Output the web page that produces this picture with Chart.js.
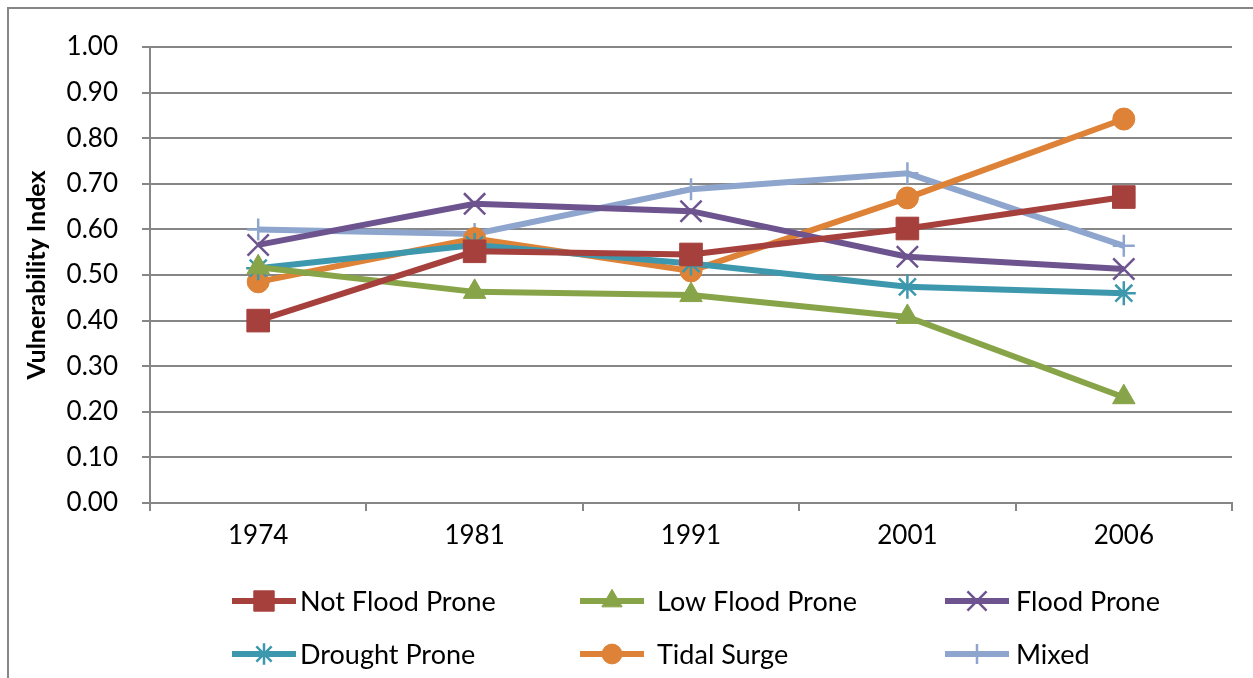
<!DOCTYPE html>
<html>
<head>
<meta charset="utf-8">
<script src="https://cdn.jsdelivr.net/npm/chart.js@4/dist/chart.umd.min.js"></script>
<style>
html,body{margin:0;padding:0;background:#fff;}
#wrap{position:relative;width:1253px;height:678px;}
</style>
</head>
<body>
<div id="wrap"><canvas id="c" width="1253" height="678"></canvas></div>
<script>
const categories = ['1974', '1981', '1991', '2001', '2006'];
const notFloodProne = [0.40, 0.552, 0.545, 0.602, 0.671];
const lowFloodProne = [0.517, 0.463, 0.456, 0.408, 0.232];
const floodProne = [0.566, 0.656, 0.640, 0.540, 0.513];
const droughtProne = [0.515, 0.566, 0.525, 0.474, 0.460];
const tidalSurge = [0.485, 0.580, 0.509, 0.669, 0.842];
const mixed = [0.600, 0.590, 0.688, 0.723, 0.564];
const yTicks = [0, 0.1, 0.2, 0.3, 0.4, 0.5, 0.6, 0.7, 0.8, 0.9, 1.0];

const FONT = 'Lato, "Open Sans", sans-serif';
const GRID = '#868686';

const seriesDefs = [
  {label: 'Not Flood Prone', data: notFloodProne, color: '#A5403D', style: 'rect', radius: 16, bw: 1},
  {label: 'Low Flood Prone', data: lowFloodProne, color: '#88A448', style: 'triangle', radius: 13, bw: 1},
  {label: 'Flood Prone', data: floodProne, color: '#6D548F', style: 'crossRot', radius: 15, bw: 2.5},
  {label: 'Drought Prone', data: droughtProne, color: '#3D98AE', style: 'star', radius: 12, bw: 2.5},
  {label: 'Tidal Surge', data: tidalSurge, color: '#DD8237', style: 'circle', radius: 11, bw: 1},
  {label: 'Mixed', data: mixed, color: '#8EA5CD', style: 'cross', radius: 11, bw: 2.5}
];

const datasets = seriesDefs.map(s => ({
  label: s.label,
  data: s.data,
  borderColor: s.color,
  backgroundColor: s.color,
  borderWidth: 6,
  pointStyle: s.style,
  pointRadius: s.radius,
  pointHoverRadius: s.radius,
  pointBorderWidth: s.bw,
  pointBackgroundColor: s.color,
  pointBorderColor: s.color,
  tension: 0
}));

const legendPlugin = {
  id: 'customLegend',
  beforeDraw(chart) {
    const ctx = chart.ctx;
    ctx.save();
    ctx.fillStyle = '#fff';
    ctx.fillRect(0, 0, chart.width, chart.height);
    ctx.strokeStyle = GRID;
    ctx.lineWidth = 2;
    ctx.strokeRect(8, 8, 1400, 800);
    ctx.restore();
  },
  afterDraw(chart) {
    const ctx = chart.ctx;
    const colX = [232, 580, 945];
    const textX = [300, 657, 1016];
    const rowY = [601, 654];
    ctx.save();
    seriesDefs.forEach((s, i) => {
      const col = i % 3, row = Math.floor(i / 3);
      const x0 = colX[col], x1 = colX[col] + 64, y = rowY[row];
      ctx.strokeStyle = s.color;
      ctx.lineWidth = 6;
      ctx.beginPath();
      ctx.moveTo(x0, y);
      ctx.lineTo(x1, y);
      ctx.stroke();
      ctx.fillStyle = s.color;
      ctx.strokeStyle = s.color;
      ctx.lineWidth = s.bw;
      Chart.helpers.drawPoint(ctx, {pointStyle: s.style, radius: s.radius * 0.9, rotation: 0, borderWidth: s.bw}, (x0 + x1) / 2, y);
      ctx.fillStyle = '#000';
      ctx.font = '27px ' + FONT;
      ctx.textBaseline = 'middle';
      ctx.textAlign = 'left';
      ctx.fillText(s.label, textX[col], y + 1);
    });
    ctx.restore();
  }
};

new Chart(document.getElementById('c'), {
  type: 'line',
  data: {labels: categories, datasets},
  plugins: [legendPlugin],
  options: {
    responsive: false,
    animation: false,
    layout: {padding: {left: 0, top: 47, right: 21, bottom: 115}},
    plugins: {legend: {display: false}, tooltip: {enabled: false}},
    scales: {
      x: {
        offset: true,
        grid: {display: true, offset: true, drawOnChartArea: false, color: GRID, lineWidth: 2, tickLength: 8},
        border: {display: true, color: GRID, width: 2},
        ticks: {color: '#000', font: {family: FONT, size: 26}, padding: 9},
        afterFit(scale) { scale.height = 60; }
      },
      y: {
        min: 0, max: 1,
        afterBuildTicks(scale) { scale.ticks = yTicks.map(v => ({value: v})); },
        grid: {color: GRID, lineWidth: 2, tickLength: 8},
        border: {display: true, color: GRID, width: 2},
        ticks: {color: '#000', font: {family: FONT, size: 26}, padding: 24,
          callback: v => Number(v).toFixed(2)},
        title: {display: true, text: 'Vulnerability Index', color: '#000',
          font: {family: FONT, size: 25, weight: 'bold'}, padding: {top: 22, bottom: 0}},
        afterFit(scale) { scale.width = 150; }
      }
    }
  }
});
</script>
</body>
</html>
